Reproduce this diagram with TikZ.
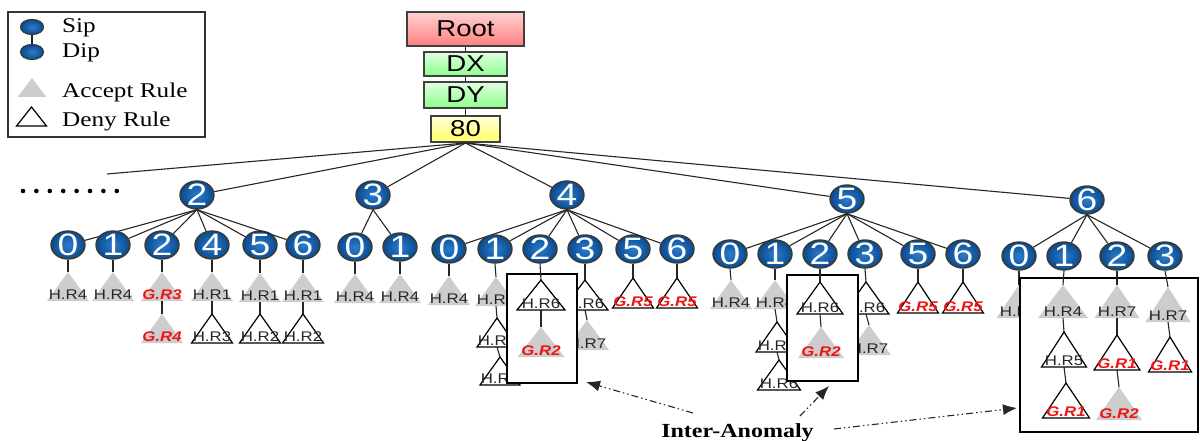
\documentclass[tikz,border=0pt]{standalone}
\usepackage{fontspec}
\usetikzlibrary{shapes.geometric,arrows.meta,calc}
\newfontfamily\sfw[FakeStretch=1.2]{Liberation Sans}
\newfontfamily\rmw[FakeStretch=1.2]{Liberation Serif}
\definecolor{nlight}{HTML}{2C7DCC}
\definecolor{ndark}{HTML}{0A4A90}
\definecolor{nbord}{HTML}{3A3A2E}
\definecolor{accgray}{HTML}{CDCDCD}
\definecolor{gred}{HTML}{F01414}
\definecolor{bbord}{HTML}{404040}
\tikzset{
  num/.style={ellipse, draw=nbord, line width=1.4pt, inner color=nlight, outer color=ndark,
    minimum width=34pt, minimum height=28pt, inner sep=-4pt, text=white,
    font=\sfw\fontsize{31}{31}\selectfont},
  legnum/.style={ellipse, draw=nbord, line width=1.2pt, inner color=nlight, outer color=ndark,
    minimum width=23pt, minimum height=15pt, inner sep=0pt},
  topbox/.style={rectangle, draw=bbord, line width=2pt, inner sep=0pt,
    font=\sfw\fontsize{23}{23}\selectfont},
  edge/.style={draw=black!85, line width=1.1pt},
  acc/.style={fill=accgray},
  den/.style={draw=black, fill=white, line width=1.2pt},
  hl/.style={inner sep=0pt, text=black!85, font=\sfw\fontsize{14}{14}\selectfont},
  gl/.style={inner sep=0pt, text=gred, font=\sfw\bfseries\itshape\fontsize{14}{14}\selectfont},
  anom/.style={rectangle, draw=black, line width=2.4pt, fill=white, inner sep=0pt},
  leg/.style={anchor=base west, inner sep=0pt, font=\rmw\fontsize{21}{21}\selectfont},
  arr/.style={-{Latex[length=14pt,width=11pt]}, draw=black!85, line width=1.1pt,
    dash pattern=on 7pt off 3pt on 1.5pt off 3pt on 1.5pt off 3pt},
}
% name, x, y (apex), width, height, style, label, label style
\newcommand\mytri[8]{%
  \begin{scope}[shift={(#2,#3)}]
    \coordinate (#1) at (0,0);
    \path[#6] (0,0) -- (-#4/2,#5) -- (#4/2,#5) -- cycle;
    \coordinate (#1-b) at (0,#5);
    \node[#8,anchor=base] (#1-t) at (0,#5-1.5) {#7};
  \end{scope}}
\begin{document}
\begin{tikzpicture}[x=1pt,y=-1pt]
\useasboundingbox (0,0) rectangle (1200,441);
% ---------- legend
\node[draw=black!80, line width=1.2pt, minimum width=197pt, minimum height=125pt, inner sep=0pt] (legbox) at (106.5,74.5) {};
\node[legnum] (lsip) at (32,27) {};
\node[legnum] (ldip) at (32,52) {};
\draw[edge] (lsip) -- (ldip);
\node[leg] (tsip) at (62,33) {Sip};
\node[leg] (tdip) at (62,58) {Dip};
\mytri{lacc}{32}{78}{29}{19}{acc}{}{hl}
\mytri{lden}{31.5}{107}{30}{19}{den}{}{hl}
\node[leg] (tacc) at (62,98) {Accept Rule};
\node[leg] (tden) at (62,127) {Deny Rule};
% ---------- top chain
\node[topbox, top color=red!18, bottom color=red!50!white, minimum width=117pt, minimum height=34pt] (root) at (465.5,29) {Root};
\node[topbox, top color=green!12, bottom color=green!45!white, minimum width=83pt, minimum height=24pt] (dx) at (465.5,64) {DX};
\node[topbox, top color=green!12, bottom color=green!45!white, minimum width=83pt, minimum height=26pt] (dy) at (465.5,95) {DY};
\node[topbox, top color=yellow!15, bottom color=yellow!60!white, minimum width=69pt, minimum height=26pt] (n80) at (465.5,129) {80};
\draw[edge] (root) -- (dx);
\draw[edge] (dx) -- (dy);
\draw[edge] (dy) -- (n80);
% ---------- level 2
\node[num] (a2) at (197,195) {2};
\node[num] (a3) at (373,195) {3};
\node[num] (a4) at (567,195) {4};
\node[num] (a5) at (847,199) {5};
\node[num] (a6) at (1087,200) {6};
\coordinate (dotsend) at (107,174);
\draw[edge] (n80.south) -- (dotsend);
\foreach \n in {a2,a3,a4,a5,a6} \draw[edge] (n80.south) -- (\n);
\foreach \i in {0,...,7} \fill (23+13.4*\i,191) circle (2.3);
% ---------- level 3
\foreach \nm/\x/\t in {b0/68/0,b1/113/1,b2/162/2,b4/212/4,b5/260/5,b6/303/6}
  {\node[num] (\nm) at (\x,245) {\t}; \draw[edge] (a2.south) -- (\nm);}
\foreach \nm/\x/\t in {c0/355/0,c1/400/1}
  {\node[num] (\nm) at (\x,247) {\t}; \draw[edge] (a3.south) -- (\nm);}
\foreach \nm/\x/\t in {d0/449/0,d1/495/1,d2/540/2,d3/585/3,d5/633/5,d6/677/6}
  {\node[num] (\nm) at (\x,249) {\t}; \draw[edge] (a4.south) -- (\nm);}
\foreach \nm/\x/\t in {e0/730/0,e1/775/1,e2/820/2,e3/865/3,e5/918/5,e6/963/6}
  {\node[num] (\nm) at (\x,254) {\t}; \draw[edge] (a5.south) -- (\nm);}
\foreach \nm/\x/\t in {f0/1019/0,f1/1064/1,f2/1117/2,f3/1165/3}
  {\node[num] (\nm) at (\x,256) {\t}; \draw[edge] (a6.south) -- (\nm);}
% ---------- subtree 2
\mytri{tb0}{68}{272}{42}{29}{acc}{H.R4}{hl}
\mytri{tb1}{113}{272}{42}{29}{acc}{H.R4}{hl}
\mytri{tb2}{162}{272}{42}{29}{acc}{G.R3}{gl}
\mytri{tb2x}{162}{314}{42}{29}{acc}{G.R4}{gl}
\mytri{tb4}{212}{272}{42}{29}{acc}{H.R1}{hl}
\mytri{tb4x}{212}{314}{41}{29}{den}{H.R3}{hl}
\mytri{tb5}{260}{273}{42}{29}{acc}{H.R1}{hl}
\mytri{tb5x}{260}{314}{41}{29}{den}{H.R2}{hl}
\mytri{tb6}{303}{273}{42}{29}{acc}{H.R1}{hl}
\mytri{tb6x}{303}{314}{41}{29}{den}{H.R2}{hl}
\foreach \n in {b0,b1,b2,b4,b5,b6} \draw[edge] (\n.south) -- (t\n);
\foreach \n in {b2,b4,b5,b6} \draw[edge] (t\n-b) -- (t\n x);
% ---------- subtree 3
\mytri{tc0}{355}{274}{42}{29}{acc}{H.R4}{hl}
\mytri{tc1}{400}{274}{42}{29}{acc}{H.R4}{hl}
\foreach \n in {c0,c1} \draw[edge] (\n.south) -- (t\n);
% ---------- subtree 4
\mytri{td0}{449}{276}{42}{29}{acc}{H.R4}{hl}
\mytri{td1}{496}{277}{42}{29}{acc}{H.R4}{hl}
\mytri{td1x}{497}{318}{40}{29}{den}{H.R5}{hl}
\mytri{td1y}{500}{357}{40}{28}{den}{H.R6}{hl}
\mytri{td3}{585}{280}{46}{30}{den}{H.R6}{hl}
\mytri{td3x}{587}{320}{44}{30}{acc}{H.R7}{hl}
\mytri{td5}{633}{278}{41}{30}{den}{G.R5}{gl}
\mytri{td6}{677}{278}{41}{30}{den}{G.R5}{gl}
\foreach \n in {d0,d1,d3,d5,d6} \draw[edge] (\n.south) -- (t\n);
\draw[edge] (td1-b) -- (td1x);
\draw[edge] (td1x-b) -- (td1y);
\draw[edge] (td3-b) -- (td3x);
\node[anom, minimum width=70pt, minimum height=109pt] (box4) at (542,328.5) {};
\mytri{td2}{541}{280}{48}{30}{den}{H.R6}{hl}
\mytri{td2x}{541}{327}{47}{30}{acc}{G.R2}{gl}
\draw[edge] (d2.south) -- (td2);
\draw[edge] (td2-b) -- (td2x);
% ---------- subtree 5
\mytri{te0}{731}{280}{42}{29}{acc}{H.R4}{hl}
\mytri{te1}{775}{280}{42}{29}{acc}{H.R4}{hl}
\mytri{te1x}{777}{322}{42}{30}{den}{H.R5}{hl}
\mytri{te1y}{779}{360}{43}{30}{den}{H.R6}{hl}
\mytri{te3}{866}{282}{46}{32}{den}{H.R6}{hl}
\mytri{te3x}{869}{325}{44}{30}{acc}{H.R7}{hl}
\mytri{te5}{918}{282}{41}{31}{den}{G.R5}{gl}
\mytri{te6}{963}{282}{41}{31}{den}{G.R5}{gl}
\foreach \n in {e0,e1,e3,e5,e6} \draw[edge] (\n.south) -- (t\n);
\draw[edge] (te1-b) -- (te1x);
\draw[edge] (te1x-b) -- (te1y);
\draw[edge] (te3-b) -- (te3x);
\node[anom, minimum width=71pt, minimum height=106pt] (box5) at (822.5,328) {};
\mytri{te2}{820}{282}{46}{32}{den}{H.R6}{hl}
\mytri{te2x}{821}{327}{46}{31}{acc}{G.R2}{gl}
\draw[edge] (e2.south) -- (te2);
\draw[edge] (te2-b) -- (te2x);
% ---------- subtree 6
\mytri{tf0}{1019}{285}{45}{33}{acc}{H.R4}{hl}
\draw[edge] (f0.south) -- (tf0);
\node[anom, minimum width=178pt, minimum height=154pt] (box6) at (1109,355) {};
\mytri{tf1}{1063}{285}{50}{33}{acc}{H.R4}{hl}
\mytri{tf1x}{1064}{332}{45}{35}{den}{H.R5}{hl}
\mytri{tf1y}{1066}{383}{47}{35}{den}{G.R1}{gl}
\mytri{tf2}{1117}{285}{45}{33}{acc}{H.R7}{hl}
\mytri{tf2x}{1117}{335}{46}{35}{den}{G.R1}{gl}
\mytri{tf2y}{1119}{387}{46}{33}{acc}{G.R2}{gl}
\mytri{tf3}{1168}{287}{45}{35}{acc}{H.R7}{hl}
\mytri{tf3x}{1170}{337}{43}{35}{den}{G.R1}{gl}
\foreach \n in {f1,f2,f3} \draw[edge] (\n.south) -- (t\n);
\draw[edge] (tf1-b) -- (tf1x);
\draw[edge] (tf1x-b) -- (tf1y);
\draw[edge] (tf2-b) -- (tf2x);
\draw[edge] (tf2x-b) -- (tf2y);
\draw[edge] (tf3-b) -- (tf3x);
% ---------- annotation
\node[anchor=base, inner sep=0pt, font=\rmw\bfseries\fontsize{20}{20}\selectfont] (inter) at (737.5,437) {Inter-Anomaly};
\coordinate (ar1s) at (693,413);
\coordinate (ar1e) at (586,382);
\coordinate (ar2s) at (800,416);
\coordinate (ar2e) at (829,386);
\coordinate (ar3s) at (834,429);
\coordinate (ar3e) at (1017,408);
\draw[arr] (ar1s) -- (ar1e);
\draw[arr] (ar2s) -- (ar2e);
\draw[arr] (ar3s) -- (ar3e);
\end{tikzpicture}
\end{document}
